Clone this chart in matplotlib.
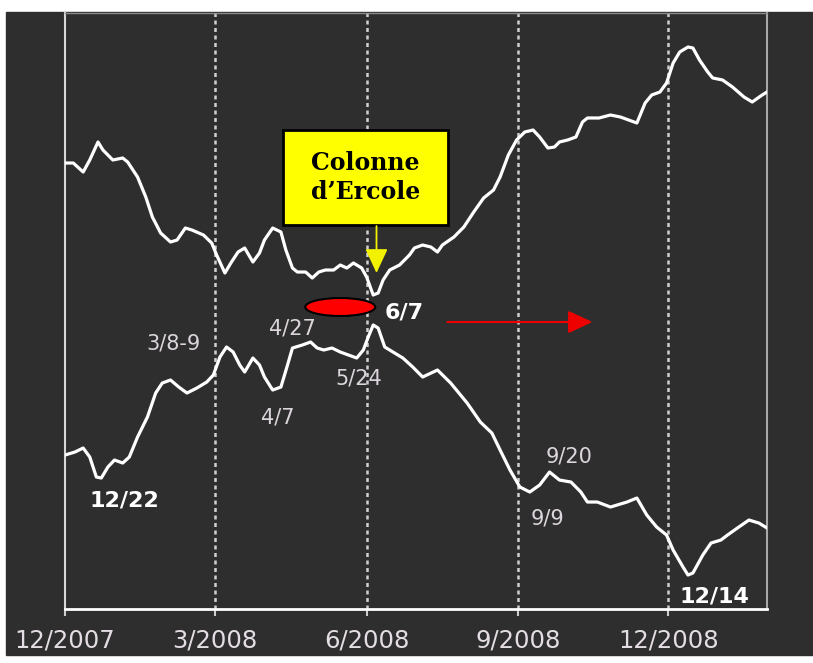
import pandas as pd
import matplotlib
matplotlib.use('Agg')
import matplotlib.pyplot as plt
from matplotlib.patches import Ellipse, Rectangle

start = pd.Timestamp('2007-12-01')

# day offsets from 2007-12-01 and index level
upper_days = [0, 5, 11, 15, 20, 23, 29, 35, 38, 44,
              49, 53, 58, 64, 68, 73, 77, 84, 89, 92,
              97, 101, 105, 109, 114, 118, 121, 126, 131, 134,
              138, 141, 146, 150, 154, 158, 163, 167, 171, 175,
              180, 183, 187, 190, 193, 197, 203, 209, 212, 217,
              222, 226, 229, 236, 242, 248, 254, 260, 264, 269,
              274, 279, 284, 288, 293, 297, 300, 305, 310, 314,
              317, 324, 331, 337, 347, 352, 356, 361, 365, 369,
              373, 378, 381, 385, 390, 393, 399, 405, 412, 417,
              423, 426]
upper_vals = [446, 446, 437, 449, 467, 459, 449, 451, 447, 432,
              412, 392, 376, 367, 369, 381, 379, 374, 366, 354,
              336, 347, 357, 361, 347, 356, 369, 381, 377, 359,
              341, 337, 337, 331, 337, 339, 339, 344, 341, 346,
              341, 332, 314, 316, 329, 339, 344, 354, 361, 364,
              362, 357, 364, 372, 382, 397, 411, 419, 432, 454,
              469, 477, 479, 472, 461, 462, 467, 469, 472, 487,
              491, 491, 494, 492, 486, 506, 514, 517, 526, 546,
              557, 562, 561, 549, 537, 531, 529, 522, 512, 507,
              514, 517]

lower_days = [0, 6, 11, 15, 19, 22, 26, 30, 35, 39,
              44, 50, 55, 59, 64, 69, 74, 80, 86, 90,
              94, 98, 102, 106, 109, 114, 118, 121, 126, 131,
              135, 138, 144, 149, 153, 157, 162, 167, 172, 177,
              181, 184, 187, 190, 194, 199, 205, 211, 217, 226,
              234, 244, 252, 259, 264, 270, 276, 282, 288, 294,
              300, 307, 313, 317, 323, 331, 341, 347, 353, 359,
              365, 369, 375, 378, 381, 387, 392, 398, 402, 408,
              415, 421, 426]
lower_vals = [154, 157, 161, 152, 132, 131, 142, 149, 146, 152,
              172, 192, 216, 226, 229, 222, 216, 221, 227, 234,
              252, 262, 257, 244, 237, 251, 244, 232, 219, 222,
              244, 261, 264, 267, 261, 259, 261, 257, 254, 251,
              259, 272, 284, 281, 262, 257, 251, 242, 232, 239,
              226, 206, 187, 176, 159, 139, 122, 117, 124, 137,
              129, 127, 117, 107, 107, 102, 107, 111, 94, 82,
              74, 59, 42, 34, 36, 54, 66, 69, 74, 81,
              89, 86, 81]

tick_dates = ['2007-12-01', '2008-03-01', '2008-06-01', '2008-09-01', '2008-12-01']
tick_labels = ['12/2007', '3/2008', '6/2008', '9/2008', '12/2008']

event_labels = ['12/22', '3/8-9', '4/7', '4/27', '5/24', '6/7', '9/9', '9/20', '12/14']
event_bold = [True, False, False, False, False, True, False, False, True]
# where each label sits (day offset, level)
event_pos = [(36, 109), (66, 266), (129, 192), (138, 281), (178, 231),
             (206, 297), (293, 91), (306, 153), (394, 13)]

bg = '#2e2e2e'
d = lambda n: start + pd.Timedelta(days=n)

fig = plt.figure(figsize=(8.13, 6.63), dpi=100)
fig.patch.set_facecolor('white')
fig.add_artist(Rectangle((6 / 813, 8 / 663), 1 - 6 / 813, (663 - 20) / 663,
                         transform=fig.transFigure, color=bg, zorder=-10))

ax = fig.add_axes([0.0800, 0.0814, 0.8635, 0.899])
ax.set_facecolor(bg)

for t in tick_dates[1:]:
    ax.axvline(pd.Timestamp(t), color='#d0d0d0', lw=1.8, ls=(0, (1.6, 1.4)), zorder=1)

ax.plot(start + pd.to_timedelta(upper_days, unit='D'), upper_vals,
        color='white', lw=2.3, zorder=3, solid_joinstyle='round')
ax.plot(start + pd.to_timedelta(lower_days, unit='D'), lower_vals,
        color='white', lw=2.3, zorder=3, solid_joinstyle='round')

ax.set_xlim(start, d(426))
ax.set_ylim(0, 596)
ax.set_yticks([])
ax.set_xticks(pd.to_datetime(tick_dates))
ax.set_xticklabels(tick_labels, fontsize=17.5, color='#e4dee4')
ax.tick_params(axis='x', direction='out', length=5, width=1.5, color='#cccccc', pad=9)

ax.spines['left'].set_color('#d8d8d8')
ax.spines['left'].set_linewidth(1.5)
ax.spines['bottom'].set_color('white')
ax.spines['bottom'].set_linewidth(2)
ax.spines['top'].set_color('#8a8a8a')
ax.spines['top'].set_linewidth(1)
ax.spines['right'].set_color('#a8a8a8')
ax.spines['right'].set_linewidth(1.5)

for txt, bold, (px, py) in zip(event_labels, event_bold, event_pos):
    ax.text(d(px), py, txt, ha='center', va='center',
            fontsize=16 if bold else 15, fontweight='bold' if bold else 'normal',
            color='white' if bold else '#dcd6dc', zorder=4)

# yellow box with arrow
ax.add_patch(Rectangle((0.3105, 0.6443), 0.2350, 0.1594, transform=ax.transAxes,
                       facecolor='#ffff00', edgecolor='black', lw=2, zorder=5))
ax.text(0.428, 0.724, 'Colonne\nd\u2019Ercole', transform=ax.transAxes, ha='center',
        va='center', fontsize=17, fontweight='bold', family='DejaVu Serif',
        color='black', linespacing=1.3, zorder=6)
ax.annotate('', xy=(d(189), 336), xytext=(d(189), 383),
            arrowprops=dict(arrowstyle='-|>,head_length=0.75,head_width=0.35',
                            color='#f2f200', lw=1.3, mutation_scale=20,
                            shrinkA=0, shrinkB=0), zorder=5)

# red marker and arrow
ax.add_patch(Ellipse((d(167), 302), 42.5, 18, facecolor='#ff0000',
                     edgecolor='black', lw=1.5, zorder=5))
ax.annotate('', xy=(d(320), 287), xytext=(d(232), 287),
            arrowprops=dict(arrowstyle='-|>,head_length=0.75,head_width=0.35',
                            color='#ee0000', lw=1.5, mutation_scale=20,
                            shrinkA=0, shrinkB=0), zorder=5)

fig.savefig('out.png', dpi=100, facecolor='white')
